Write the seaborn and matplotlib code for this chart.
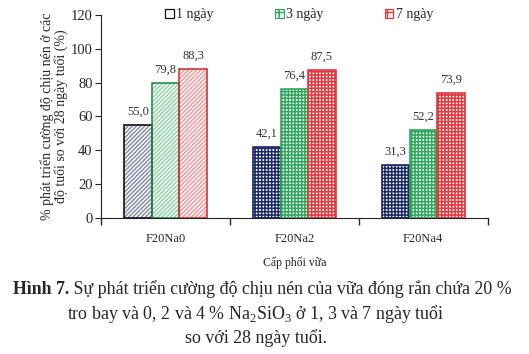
import pandas as pd
import seaborn as sns
import matplotlib.pyplot as plt
from matplotlib.patches import Patch, Rectangle

# --- data ---
mixes = ["F20Na0", "F20Na2", "F20Na4"]
ages = ["1 ngày", "3 ngày", "7 ngày"]
day1 = [55.0, 42.1, 31.3]
day3 = [79.8, 76.4, 52.2]
day7 = [88.3, 87.5, 73.9]

colors = ["#1c2a66", "#2fa85e", "#e0383e"]
light = ["#8a90a8", "#93d3aa", "#ef9a9c"]
outline = ["#111111", "#2a8a50", "#d0363a"]

df = pd.DataFrame({
    "mix": mixes * 3,
    "age": [a for a in ages for _ in mixes],
    "val": day1 + day3 + day7,
})

sns.set_style("ticks")
plt.rcParams["font.family"] = ["Liberation Serif", "DejaVu Serif"]
plt.rcParams["mathtext.fontset"] = "custom"
plt.rcParams["mathtext.rm"] = "Liberation Serif"
plt.rcParams["hatch.linewidth"] = 1.1

fig = plt.figure(figsize=(5.29, 3.54), dpi=100)
ax = fig.add_axes([0.191, 0.384, 0.731, 0.574])

sns.barplot(data=df, x="mix", y="val", hue="age", order=mixes, hue_order=ages,
            width=0.64, ax=ax, legend=False, saturation=1)

# hatch: diagonal for the first mix, checker for the others
for k, age in enumerate(ages):
    cont = ax.containers[k]
    for i, bar in enumerate(cont):
        bar.set_facecolor("white")
        if i == 0:
            bar.set_edgecolor(light[k])
            bar.set_hatch("////////")
        else:
            bar.set_edgecolor(colors[k])
            bar.set_hatch("+++++")
        bar.set_linewidth(0)
        ax.add_patch(Rectangle(bar.get_xy(), bar.get_width(), bar.get_height(),
                               fill=False, edgecolor=outline[k] if i == 0 else colors[k],
                               linewidth=1.2, zorder=bar.get_zorder() + 0.1))
    labels = [f"{v:.1f}".replace(".", ",") for v in cont.datavalues]
    ax.bar_label(cont, labels=labels, padding=5, fontsize=9, color="#333333")

ax.set_ylim(0, 120)
ax.set_yticks(range(0, 121, 20))
ax.set_xlim(-0.5, 2.5)
ax.set_xticks([-0.5, 0.5, 1.5, 2.5], minor=True)
ax.tick_params(axis="x", which="major", length=0, labelsize=9, pad=11)
ax.tick_params(axis="x", which="minor", length=5, width=1)
ax.tick_params(axis="y", labelsize=10.5, length=4, pad=2)
sns.despine(ax=ax)
for s in ["left", "bottom"]:
    ax.spines[s].set_color("#222222")

ax.set_xlabel("Cấp phối vữa", fontsize=8.5, labelpad=8)
ax.set_ylabel("% phát triển cường độ chịu nén ở các\nđộ tuổi so với 28 ngày tuổi (%)",
              fontsize=10, linespacing=0.95)
ax.yaxis.set_label_coords(-0.086, 0.5)

handles = [Patch(facecolor="white", edgecolor=outline[0], linewidth=0.9)]
handles += [Patch(facecolor="white", edgecolor=colors[k], hatch="++", linewidth=0.9)
            for k in (1, 2)]
fig.legend(handles, ages, loc="upper center", bbox_to_anchor=(0.566, 1.012), ncol=3,
           frameon=False, fontsize=10, handlelength=0.6, handleheight=0.6,
           handletextpad=0.2, columnspacing=4.4)

# caption
fs = 12.9
t1 = fig.text(0.024, 1 - 289 / 354, "Hình 7.", fontsize=fs, fontweight="bold",
              va="center", ha="left")
ax.annotate(" Sự phát triển cường độ chịu nén của vữa đóng rắn chứa 20 %",
            xy=(1, 0), xycoords=t1, va="bottom", ha="left", fontsize=fs,
            annotation_clip=False)
fig.text(0.483, 1 - 314 / 354, "tro bay và 0, 2 và 4 % Na$_2$SiO$_3$ ở 1, 3 và 7 ngày tuổi",
         fontsize=fs, ha="center", va="center")
fig.text(0.483, 1 - 338 / 354, "so với 28 ngày tuổi.", fontsize=fs,
         ha="center", va="center")

fig.savefig("out.png", dpi=100)
plt.close(fig)
